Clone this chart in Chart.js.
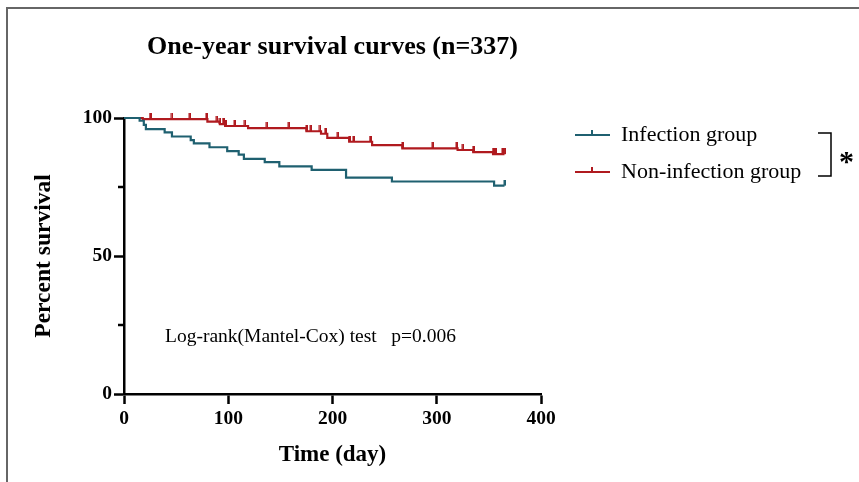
<!DOCTYPE html>
<html>
<head>
<meta charset="utf-8">
<script src="https://cdn.jsdelivr.net/npm/chart.js@4"></script>
<style>
  body { margin: 0; background: #fff; }
</style>
</head>
<body>
<canvas id="kmChart" width="859" height="482"></canvas>
<script>
// Kaplan-Meier steps: time (day) and percent survival after each step
const infectionDays = [0, 15, 19, 21, 39, 46, 64, 67, 82, 99, 110, 115, 135, 149, 180, 213, 257, 355, 365];
const infectionSurv = [100, 99.0, 97.5, 96.0, 94.8, 93.3, 92.0, 90.8, 89.4, 88.0, 86.7, 85.2, 84.0, 82.5, 81.2, 78.4, 77.0, 75.5, 75.5];
const infectionCensored = [365];

const nonInfDays = [0, 18, 80, 92, 97, 119, 175, 189, 195, 216, 238, 267, 320, 335, 354, 365];
const nonInfSurv = [100, 99.6, 98.7, 97.8, 97.1, 96.3, 95.2, 94.3, 92.8, 91.4, 90.2, 89.0, 88.4, 87.6, 86.9, 86.9];
const nonInfCensored = [25, 46, 63, 79, 89, 92, 95, 97, 106, 116, 137, 158, 175, 179, 188, 193, 205, 216, 220, 236, 267, 296, 319, 325, 335, 354, 356, 363, 365];

const xTicks = [0, 100, 200, 300, 400];
const yTicks = [0, 50, 100];

const tealColor = '#1f6070';
const redColor = '#b01a1f';
const serif = '"Liberation Serif", "Times New Roman", serif';

function toPoints(days, surv) {
    return days.map((d, i) => ({ x: d, y: surv[i] }));
}

// survival level at time t (for placing censor ticks on the curve)
function levelAt(days, surv, t) {
    let v = surv[0];
    for (let i = 0; i < days.length; i++) {
        if (days[i] <= t) v = surv[i];
    }
    return v;
}

function censorPoints(days, surv, censored) {
    return censored.map(t => ({ x: t, y: levelAt(days, surv, t) }));
}

// small upward tick used for censored observations
function makeTick(color) {
    const c = document.createElement('canvas');
    c.width = 3;
    c.height = 12;
    const g = c.getContext('2d');
    g.fillStyle = color;
    g.fillRect(0.5, 0, 2.5, 6);
    return c;
}

const decorPlugin = {
    id: 'decor',
    afterDraw(chart) {
        const ctx = chart.ctx;
        const area = chart.chartArea;
        const yScale = chart.scales.y;
        ctx.save();

        // figure frame
        ctx.strokeStyle = '#666';
        ctx.lineWidth = 2;
        ctx.beginPath();
        ctx.moveTo(7, 482);
        ctx.lineTo(7, 8);
        ctx.lineTo(859, 8);
        ctx.stroke();

        // minor y ticks
        ctx.strokeStyle = '#000';
        ctx.lineWidth = 2.5;
        [25, 75].forEach(v => {
            const y = yScale.getPixelForValue(v);
            ctx.beginPath();
            ctx.moveTo(area.left - 6, y);
            ctx.lineTo(area.left, y);
            ctx.stroke();
        });

        // title
        ctx.fillStyle = '#000';
        ctx.font = 'bold 26px ' + serif;
        ctx.textAlign = 'center';
        ctx.textBaseline = 'middle';
        ctx.fillText('One-year survival curves (n=337)', (area.left + area.right) / 2, 47);

        // test annotation
        ctx.font = '19.5px ' + serif;
        ctx.textAlign = 'left';
        ctx.fillText('Log-rank(Mantel-Cox) test   p=0.006', 165, 337);

        // legend
        const items = [
            { label: 'Infection group', color: tealColor, y: 135 },
            { label: 'Non-infection group', color: redColor, y: 172 }
        ];
        ctx.font = '22px ' + serif;
        items.forEach(it => {
            ctx.strokeStyle = it.color;
            ctx.lineWidth = 2;
            ctx.beginPath();
            ctx.moveTo(575, it.y);
            ctx.lineTo(610, it.y);
            ctx.moveTo(592, it.y);
            ctx.lineTo(592, it.y - 5);
            ctx.stroke();
            ctx.fillStyle = '#000';
            ctx.fillText(it.label, 621, it.y);
        });

        // significance bracket
        ctx.strokeStyle = '#000';
        ctx.lineWidth = 1.5;
        ctx.beginPath();
        ctx.moveTo(818, 133);
        ctx.lineTo(831, 133);
        ctx.lineTo(831, 176);
        ctx.lineTo(818, 176);
        ctx.stroke();
        ctx.font = 'bold 30px ' + serif;
        ctx.fillText('*', 839, 163);

        ctx.restore();
    }
};

new Chart(document.getElementById('kmChart').getContext('2d'), {
    type: 'line',
    data: {
        datasets: [
            {
                label: 'Infection group',
                data: toPoints(infectionDays, infectionSurv),
                borderColor: tealColor,
                borderWidth: 2.2,
                stepped: true,
                pointRadius: 0,
                fill: false,
                clip: false
            },
            {
                label: 'Non-infection group',
                data: toPoints(nonInfDays, nonInfSurv),
                borderColor: redColor,
                borderWidth: 2.2,
                stepped: true,
                pointRadius: 0,
                fill: false,
                clip: false
            },
            {
                label: 'Infection censored',
                data: censorPoints(infectionDays, infectionSurv, infectionCensored),
                showLine: false,
                pointStyle: makeTick(tealColor),
                pointRadius: 3,
                clip: false
            },
            {
                label: 'Non-infection censored',
                data: censorPoints(nonInfDays, nonInfSurv, nonInfCensored),
                showLine: false,
                pointStyle: makeTick(redColor),
                pointRadius: 3,
                clip: false
            }
        ]
    },
    options: {
        responsive: false,
        animation: false,
        layout: {
            padding: { top: 118, right: 318, left: 0, bottom: 0 }
        },
        scales: {
            x: {
                type: 'linear',
                min: 0,
                max: 400,
                afterFit: s => { s.height = 88; },
                afterBuildTicks: s => { s.ticks = xTicks.map(v => ({ value: v })); },
                border: { display: true, color: '#000', width: 2.5 },
                grid: { drawOnChartArea: false, tickLength: 10, tickWidth: 2.5, tickColor: '#000' },
                ticks: {
                    color: '#000',
                    padding: 3,
                    maxRotation: 0,
                    font: { family: serif, size: 19.5, weight: 'bold' }
                },
                title: {
                    display: true,
                    text: 'Time (day)',
                    color: '#000',
                    padding: { bottom: 13 },
                    font: { family: serif, size: 23, weight: 'bold' }
                }
            },
            y: {
                min: 0,
                max: 100,
                afterFit: s => { s.width = 124; },
                afterBuildTicks: s => { s.ticks = yTicks.map(v => ({ value: v })); },
                border: { display: true, color: '#000', width: 2.5 },
                grid: { drawOnChartArea: false, tickLength: 10, tickWidth: 2.5, tickColor: '#000' },
                ticks: {
                    color: '#000',
                    padding: 2,
                    font: { family: serif, size: 19.5, weight: 'bold' }
                },
                title: {
                    display: true,
                    text: 'Percent survival',
                    color: '#000',
                    padding: { top: 30 },
                    font: { family: serif, size: 23.5, weight: 'bold' }
                }
            }
        },
        plugins: {
            legend: { display: false },
            title: { display: false },
            tooltip: { enabled: false }
        }
    },
    plugins: [decorPlugin]
});
</script>
</body>
</html>
